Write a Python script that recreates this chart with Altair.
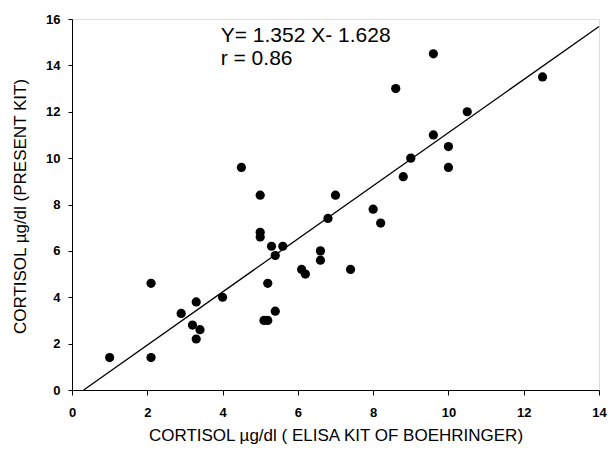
import altair as alt
import pandas as pd

# Data
boehringer = [1.0, 2.1, 2.1, 2.9, 3.3, 3.2, 3.4, 3.3, 4.0, 4.5, 5.0, 5.0, 5.0, 5.3, 5.6,
              5.4, 5.2, 5.4, 5.1, 5.2, 6.1, 6.2, 6.6, 6.6, 6.8, 7.0, 7.4, 8.0, 8.2, 8.6,
              8.8, 9.0, 9.6, 9.6, 10.0, 10.0, 10.5, 12.5]
present_kit = [1.4, 1.4, 4.6, 3.3, 3.8, 2.8, 2.6, 2.2, 4.0, 9.6, 8.4, 6.8, 6.6, 6.2, 6.2,
               5.8, 4.6, 3.4, 3.0, 3.0, 5.2, 5.0, 6.0, 5.6, 7.4, 8.4, 5.2, 7.8, 7.2, 13.0,
               9.2, 10.0, 14.5, 11.0, 10.5, 9.6, 12.0, 13.5]

fit_x = [0.31, 14.0]
fit_y = [0.0, 15.68]

ann_text = ["Y= 1.352 X- 1.628", "r = 0.86"]
ann_x = [3.95, 3.95]
ann_y = [15.0, 14.0]

x_ticks = [0, 2, 4, 6, 8, 10, 12, 14]
y_ticks = [0, 2, 4, 6, 8, 10, 12, 14, 16]

pts = pd.DataFrame({"x": boehringer, "y": present_kit})
fit = pd.DataFrame({"x": fit_x, "y": fit_y})
ann = pd.DataFrame({"x": ann_x, "y": ann_y, "t": ann_text})

FONT = "Liberation Sans"

xs = alt.Scale(domain=[0, 14], nice=False, zero=False)
ys = alt.Scale(domain=[0, 16], nice=False, zero=False)

x_axis = alt.Axis(
    values=x_ticks, grid=False, title="CORTISOL µg/dl  ( ELISA KIT OF BOEHRINGER)",
    labelFont=FONT, labelFontSize=13, labelFontWeight="bold", labelColor="black",
    labelPadding=11, tickSize=5, tickColor="black", domainColor="black",
    titleFont=FONT, titleFontSize=17, titleFontWeight="normal", titleColor="black",
    titleBaseline="alphabetic", titleY=50, labelFlush=False,
)
y_axis = alt.Axis(
    values=y_ticks, grid=False, title="CORTISOL µg/dl (PRESENT KIT)",
    labelFont=FONT, labelFontSize=13, labelFontWeight="bold", labelColor="black",
    labelPadding=8, tickSize=4, tickColor="black", domainColor="black",
    titleFont=FONT, titleFontSize=17, titleFontWeight="normal", titleColor="black",
    titleBaseline="middle", titleX=-52, titleY=187, labelFlush=False,
)

points = alt.Chart(pts).mark_circle(size=85, color="black", opacity=1).encode(
    x=alt.X("x:Q", scale=xs, axis=x_axis),
    y=alt.Y("y:Q", scale=ys, axis=y_axis),
)

line = alt.Chart(fit).mark_line(color="black", strokeWidth=1.3).encode(
    x=alt.X("x:Q", scale=xs),
    y=alt.Y("y:Q", scale=ys),
)

text = alt.Chart(ann).mark_text(
    align="left", baseline="alphabetic", font=FONT, fontSize=21, color="black"
).encode(
    x=alt.X("x:Q", scale=xs),
    y=alt.Y("y:Q", scale=ys),
    text="t:N",
)

chart = (line + points + text).properties(
    width=527, height=371,
    autosize=alt.AutoSizeParams(type="none"),
    padding={"left": 64, "top": 11, "right": 8, "bottom": 54},
).configure_view(stroke=None).configure(background="white")

chart.save("out.html", embed_options={"renderer": "svg", "actions": False})
